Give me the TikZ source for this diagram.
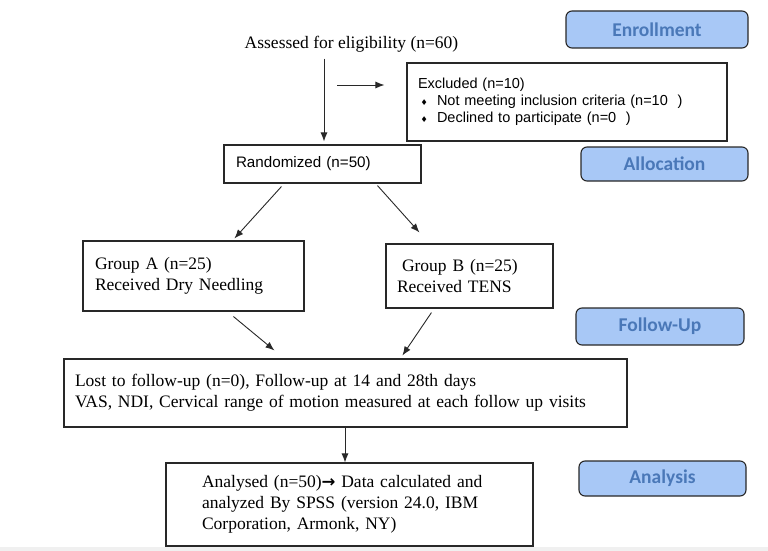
\documentclass[tikz,border=0pt]{standalone}
\usepackage{fontspec}
\setmainfont{Liberation Serif}
\newfontfamily\arialf{Liberation Sans}
\newfontfamily\calib{Carlito}
\newfontfamily\dejavu{DejaVu Sans}
\usetikzlibrary{arrows.meta,calc}
\definecolor{lblfill}{RGB}{168,200,246}
\definecolor{lbltext}{RGB}{74,120,184}
\definecolor{lineg}{RGB}{40,40,40}
\definecolor{stripg}{RGB}{240,240,240}
\newcommand{\dmd}{\makebox[19pt][l]{\hspace*{2.5pt}{\dejavu\fontsize{8}{8}\selectfont ♦}}}
\begin{document}
\begin{tikzpicture}[x=1pt,y=-1pt,
  box/.style={draw=lineg, line width=1.1pt, rectangle, align=left, anchor=center, inner ysep=0pt},
  lbl/.style={draw=lineg, line width=1.1pt, rounded corners=6pt, fill=lblfill, text=lbltext,
    font=\calib\bfseries\fontsize{19.5}{22}\selectfont, inner sep=0pt, anchor=center},
  arr/.style={draw=lineg, line width=0.9pt, -{Latex[length=9pt,width=7pt]}},
  serif/.style={font=\fontsize{17.5}{21}\selectfont},
  sans/.style={font=\arialf\fontsize{14.5}{17}\selectfont}]

\useasboundingbox (0,0) rectangle (768,551);
\fill[stripg] (0,547) rectangle (768,551);

% phase labels
\node[lbl, minimum width=182pt, minimum height=37pt] (enr) at (657,29.5) {Enrollment};
\node[lbl, minimum width=167pt, minimum height=34pt] (alloc) at (664.5,164) {Allocation};
\node[lbl, minimum width=168pt, minimum height=37pt] (fu) at (660,326.5) {Follow-Up};
\node[lbl, minimum width=167pt, minimum height=35pt] (anl) at (662.5,478.5) {Analysis};

% flow boxes
\node[serif, anchor=center] (assess) at (351.5,44) {Assessed for eligibility (n=60)};

\node[box, sans, minimum height=78pt, text width=298pt, inner xsep=11pt] (excl) at (567,102)
  {Excluded (n=10)\\
   \dmd Not meeting inclusion criteria (n=10~~)\\
   \dmd Declined to participate (n=0~~)\\[2pt]};

\node[box, font=\arialf\fontsize{15.2}{18}\selectfont, minimum height=38pt, text width=173pt, inner xsep=12pt] (rand) at (322.5,164)
  {Randomized (n=50)};

\node[box, serif, minimum height=70pt, text width=197pt, inner xsep=12pt] (ga) at (193.5,276)
  {Group A (n=25)\\Received Dry Needling\\[4pt]};

\node[box, serif, minimum height=64pt, text width=145pt, inner xsep=11pt] (gb) at (469.5,276)
  {\hspace*{5pt}Group B (n=25)\\Received TENS};

\node[box, serif, minimum height=68pt, text width=541pt, inner xsep=11pt] (lost) at (345.5,393)
  {Lost to follow-up (n=0), Follow-up at 14 and 28th days\\
   VAS, NDI, Cervical range of motion measured at each follow up visits};

\node[box, serif, minimum height=83pt, text width=295pt, inner xsep=36pt] (anal) at (349.5,504.5)
  {Analysed (n=50){\dejavu\bfseries\fontsize{16.5}{16}\selectfont →} Data calculated and\\
   analyzed By SPSS (version 24.0, IBM\\
   Corporation, Armonk, NY)};

% connectors
\draw[arr] ([xshift=-27.5pt,yshift=-3pt]assess.south) -- ([xshift=1.5pt,yshift=3pt]rand.north);
\coordinate (hs) at (337,85);
\draw[arr] (hs) -- ([xshift=-22pt,yshift=17pt]excl.west);
\draw[arr] ([xshift=58pt,yshift=-3pt]rand.south west) -- ([xshift=152pt,yshift=2pt]ga.north west);
\draw[arr] ([xshift=154pt,yshift=-2pt]rand.south west) -- ([xshift=34pt,yshift=11pt]gb.north west);
\draw[arr] ([xshift=151pt,yshift=-5pt]ga.south west) -- ([xshift=211pt,yshift=8pt]lost.north west);
\draw[arr] ([xshift=46pt,yshift=-4pt]gb.south west) -- ([xshift=339pt,yshift=3pt]lost.north west);
\draw[arr] ([xshift=-0.5pt]lost.south) -- ([xshift=-4.5pt]anal.north);
\end{tikzpicture}
\end{document}
